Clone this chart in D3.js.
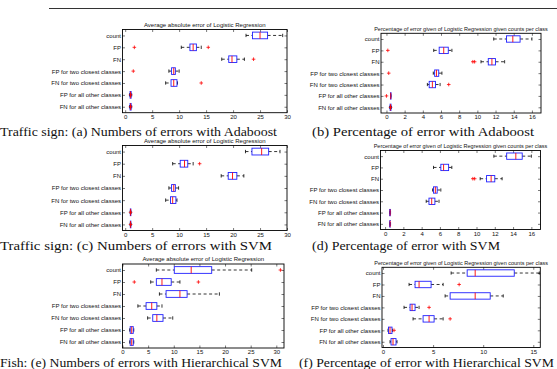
<!DOCTYPE html>
<html>
<head>
<meta charset="utf-8">
<script src="https://cdn.jsdelivr.net/npm/d3@7"></script>
<style>
  body { margin: 0; background: #fff; }
  svg { display: block; }
</style>
</head>
<body>
<svg id="fig" width="557" height="369"></svg>
<script>
const rowLabels = [
  "count", "FP", "FN",
  "FP for two closest classes", "FN for two closest classes",
  "FP for all other classes", "FN for all other classes"
];

// one row per category: [lower whisker, q1, median, q3, upper whisker]
const adaCount = [
  [22.4, 23.6, 25.0, 26.4, 29.2],
  [10.4, 12.0, 12.6, 13.2, 14.1],
  [17.9, 19.2, 19.8, 20.7, 22.1],
  [8.1, 8.6, 9.0, 9.3, 10.0],
  [7.5, 8.5, 9.0, 9.6, 9.7],
  [0.8, 0.9, 1.0, 1.1, 1.2],
  [0.8, 0.9, 1.0, 1.1, 1.2]
];
const adaCountOut = [[], [1.7, 15.4], [23.8], [1.5], [14.1], [1.0], [1.0]];

const adaPct = [
  [11.8, 13.2, 13.9, 14.7, 16.0],
  [5.2, 5.8, 6.3, 6.8, 7.2],
  [10.4, 11.2, 11.6, 12.0, 13.0],
  [5.15, 5.3, 5.5, 5.75, 6.1],
  [4.5, 4.7, 5.05, 5.4, 5.9],
  [0.45, 0.45, 0.47, 0.5, 0.5],
  [0.35, 0.4, 0.45, 0.5, 0.55]
];
const adaPctOut = [[], [0.15], [9.5, 9.7], [0.25], [6.85], [0.0], [0.45]];

const svmCount = [
  [22.3, 23.5, 25.3, 26.6, 28.7],
  [8.8, 10.2, 11.0, 11.6, 12.6],
  [17.8, 19.1, 19.9, 20.7, 22.0],
  [8.1, 8.6, 9.0, 9.3, 9.9],
  [7.5, 8.4, 8.8, 9.4, 9.6],
  [0.9, 0.95, 1.0, 1.05, 1.1],
  [0.9, 0.95, 1.0, 1.05, 1.1]
];
const svmCountOut = [[], [13.8], [], [], [], [1.0], [1.0]];

const svmPct = [
  [11.9, 13.3, 14.3, 15.0, 16.0],
  [5.3, 6.1, 6.4, 6.95, 7.3],
  [10.4, 11.1, 11.6, 12.0, 12.8],
  [5.2, 5.3, 5.5, 5.7, 6.1],
  [4.5, 4.8, 5.1, 5.45, 5.9],
  [0.5, 0.5, 0.55, 0.6, 0.6],
  [0.5, 0.5, 0.55, 0.6, 0.6]
];
const svmPctOut = [[], [], [9.6, 9.8], [], [], [], []];

const hsvmCount = [
  [6.6, 10.1, 13.4, 17.4, 25.2],
  [5.5, 6.6, 7.7, 9.5, 11.2],
  [7.2, 8.5, 11.2, 12.6, 18.9],
  [3.0, 4.6, 5.7, 6.7, 7.7],
  [4.9, 5.9, 6.7, 7.9, 9.8],
  [1.4, 1.5, 1.8, 2.1, 2.2],
  [1.4, 1.5, 1.8, 2.1, 2.2]
];
const hsvmCountOut = [[30.8], [2.3, 14.8], [], [], [], [], []];

const hsvmPct = [
  [6.8, 8.4, 9.2, 13.1, 15.6],
  [2.6, 3.2, 3.6, 4.8, 6.0],
  [6.2, 6.7, 9.2, 10.7, 12.0],
  [2.1, 2.7, 2.9, 3.2, 3.6],
  [3.0, 4.0, 4.6, 5.1, 6.0],
  [0.5, 0.55, 0.7, 0.9, 0.95],
  [0.7, 0.8, 1.0, 1.3, 1.4]
];
const hsvmPctOut = [[], [7.6], [], [4.6], [6.7], [1.1], []];

const countTicks = [0, 5, 10, 15, 20, 25, 30];
const pctTicks = [0, 2, 4, 6, 8, 10, 12, 14, 16];
const hsvmPctTicks = [0, 5, 10, 15];

const countTitle = "Average absolute error of Logistic Regression";
const pctTitle = "Percentage of error given of Logistic Regression given counts per class";

const captions = [
  "Traffic sign: (a) Numbers of errors with Adaboost",
  "(b) Percentage of error with Adaboost",
  "Traffic sign: (c) Numbers of errors with SVM",
  "(d) Percentage of error with SVM",
  "Fish: (e) Numbers of errors with Hierarchical SVM",
  "(f) Percentage of error with Hierarchical SVM"
];

// layout: frame [left, top, right, bottom], x domain, title size, caption [x0, x1, baseline, size]
const panels = [
  { stats: adaCount, out: adaCountOut, ticks: countTicks, title: countTitle, titleSize: 6, cap: captions[0],
    frame: [122.5, 29.5, 287, 112.7], dom: [-0.5, 30], capPos: [0, 277, 136, 13] },
  { stats: adaPct, out: adaPctOut, ticks: pctTicks, title: pctTitle, titleSize: 5.5, cap: captions[1],
    frame: [381, 33.3, 541, 113], dom: [-0.6, 17], capPos: [312, 534, 136, 13] },
  { stats: svmCount, out: svmCountOut, ticks: countTicks, title: countTitle, titleSize: 6, cap: captions[2],
    frame: [122.5, 145.5, 287, 230.5], dom: [-0.5, 30], capPos: [0, 272, 249.5, 13] },
  { stats: svmPct, out: svmPctOut, ticks: pctTicks, title: pctTitle, titleSize: 5.5, cap: captions[3],
    frame: [380.5, 150.5, 540.5, 229.5], dom: [-0.5, 17], capPos: [312, 500, 249.5, 13] },
  { stats: hsvmCount, out: hsvmCountOut, ticks: countTicks, title: countTitle, titleSize: 6, cap: captions[4],
    frame: [122.5, 264, 284, 348], dom: [0, 31.5], capPos: [0, 282, 367, 12] },
  { stats: hsvmPct, out: hsvmPctOut, ticks: hsvmPctTicks, title: pctTitle, titleSize: 5.5, cap: captions[5],
    frame: [382, 267.3, 540.3, 347.5], dom: [-0.1, 15.7], capPos: [299, 554, 367, 12] }
];

const svg = d3.select("#fig");
const labelFont = "Liberation Sans, Arial, sans-serif";
const labelSize = 6;

// top rule of the page
svg.append("line")
  .attr("x1", 49).attr("x2", 557)
  .attr("y1", 8.5).attr("y2", 8.5)
  .attr("stroke", "#333").attr("stroke-width", 1);

panels.forEach((p) => {
  const [L, T, R, B] = p.frame;
  const x = d3.scaleLinear().domain(p.dom).range([L, R]);
  const y = d3.scaleLinear().domain([0.5, 7.5]).range([T, B]);
  const unit = (B - T) / 7;
  const g = svg.append("g");

  // axes (ticks inside, MATLAB style)
  g.append("g").attr("transform", `translate(0,${B})`)
    .call(d3.axisBottom(x).tickValues(p.ticks).tickSizeInner(-2.5).tickSizeOuter(0).tickPadding(2));
  g.append("g").attr("transform", `translate(0,${T})`)
    .call(d3.axisTop(x).tickValues(p.ticks).tickSizeInner(-2.5).tickSizeOuter(0).tickFormat(""));
  g.append("g").attr("transform", `translate(${L},0)`)
    .call(d3.axisLeft(y).tickValues(d3.range(1, 8)).tickFormat((d) => rowLabels[d - 1])
      .tickSizeInner(-2.5).tickSizeOuter(0).tickPadding(1.5));
  g.append("g").attr("transform", `translate(${R},0)`)
    .call(d3.axisRight(y).tickValues(d3.range(1, 8)).tickSizeInner(-2.5).tickSizeOuter(0).tickFormat(""));
  g.selectAll(".domain").remove();
  g.selectAll(".tick line").attr("stroke", "#222").attr("stroke-width", 0.6);
  g.selectAll(".tick text").attr("font-family", labelFont).attr("font-size", labelSize).attr("fill", "#111");

  g.append("rect")
    .attr("x", L).attr("y", T).attr("width", R - L).attr("height", B - T)
    .attr("fill", "none").attr("stroke", "#000").attr("stroke-width", 0.9);

  g.append("text")
    .attr("x", (L + R) / 2).attr("y", T - 2.8)
    .attr("text-anchor", "middle")
    .attr("font-family", labelFont).attr("font-size", p.titleSize).attr("fill", "#111")
    .text(p.title);

  // boxes
  const half = unit * 0.28;
  const capHalf = unit * 0.14;
  p.stats.forEach((s, i) => {
    const [lo, q1, med, q3, hi] = s;
    const cy = y(i + 1);
    // whiskers
    [[lo, q1], [q3, hi]].forEach(([a, b]) => {
      if (b - a <= 0) return;
      g.append("line")
        .attr("x1", x(a)).attr("x2", x(b)).attr("y1", cy).attr("y2", cy)
        .attr("stroke", "#000").attr("stroke-width", 0.8).attr("stroke-dasharray", "3,2.5");
    });
    [lo, hi].forEach((v) => {
      g.append("line")
        .attr("x1", x(v)).attr("x2", x(v)).attr("y1", cy - capHalf).attr("y2", cy + capHalf)
        .attr("stroke", "#000").attr("stroke-width", 0.8);
    });
    g.append("rect")
      .attr("x", x(q1)).attr("y", cy - half)
      .attr("width", Math.max(x(q3) - x(q1), 0.5)).attr("height", half * 2)
      .attr("fill", "none").attr("stroke", "#2020ff").attr("stroke-width", 0.9);
    g.append("line")
      .attr("x1", x(med)).attr("x2", x(med)).attr("y1", cy - half).attr("y2", cy + half)
      .attr("stroke", "#ff0000").attr("stroke-width", 0.9);
    // outliers
    p.out[i].forEach((v) => {
      const px = x(v);
      g.append("path")
        .attr("d", `M${px - 1.8},${cy}H${px + 1.8}M${px},${cy - 1.8}V${cy + 1.8}`)
        .attr("stroke", "#ff0000").attr("stroke-width", 0.8).attr("fill", "none");
    });
  });

  // subfigure caption
  const [c0, c1, cb, cs] = p.capPos;
  svg.append("text")
    .attr("x", c0).attr("y", cb)
    .attr("font-family", "Liberation Serif, Times New Roman, serif")
    .attr("font-size", cs).attr("fill", "#111")
    .attr("textLength", c1 - c0).attr("lengthAdjust", "spacingAndGlyphs")
    .text(p.cap);
});
</script>
</body>
</html>
